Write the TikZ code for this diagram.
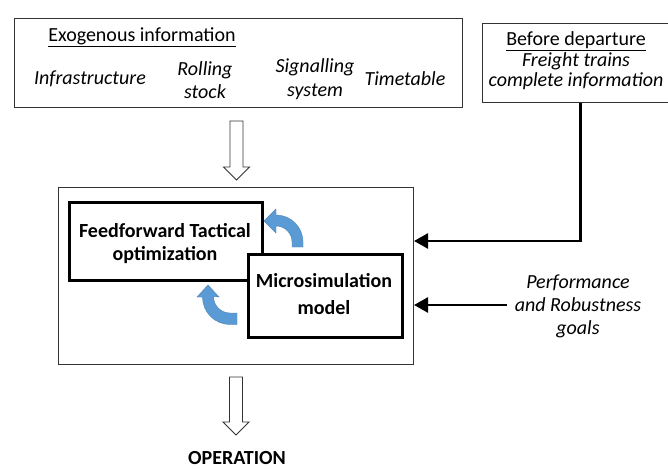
\documentclass[tikz,border=0pt]{standalone}
\usepackage{fontspec}
\setmainfont{Carlito}
\usetikzlibrary{arrows.meta,calc}
\definecolor{officeblue}{HTML}{5B9BD5}
\definecolor{thinline}{HTML}{333333}
\begin{document}
\begin{tikzpicture}[x=1pt,y=-1pt,
  thinbox/.style={draw=thinline,line width=1pt,fill=white,anchor=north west,inner sep=0pt},
  thickbox/.style={draw=black,line width=2.6pt,fill=white,anchor=north west,inner sep=0pt},
  lbl/.style={align=center,inner sep=0pt,font=\fontsize{20}{23}\selectfont},
  itlbl/.style={lbl,font=\fontsize{20}{23.5}\selectfont\itshape},
  bflbl/.style={align=center,inner sep=0pt,font=\fontsize{20}{24}\selectfont\bfseries},
  hollow/.style={draw=thinline,line width=0.9pt,fill=white},
  feed/.style={draw=black,line width=2.6pt,-{Triangle[length=14pt,width=15pt]}},
  bluearrow/.style={fill=officeblue,draw=officeblue!85!black,line width=0.4pt}
]
\useasboundingbox (0,0) rectangle (668,468);
% top-left box
\node[thinbox,minimum width=448pt,minimum height=89pt] (exo) at (14,18) {};
\node[lbl] (exot) at (142,37) {\underline{Exogenous information}};
\node[itlbl] (infra) at (90,78.5) {Infrastructure};
\node[itlbl] (roll) at (205,80) {Rolling\\stock};
\node[itlbl] (sig) at (315,79) {Signalling\\system};
\node[itlbl] (tt) at (405,78.5) {Timetable};
% top-right box
\node[thinbox,minimum width=196pt,minimum height=79pt] (rb) at (482,23) {};
\node[align=center,inner sep=0pt,font=\fontsize{20}{20.5}\selectfont] (rbt) at (576,61)
  {\underline{Before departure}\\ \itshape Freight trains\\ \itshape complete information};
% top hollow arrow
\draw[hollow] (230,121) -- (243,121) -- (243,167) -- (249.5,167) -- (236.5,180) -- (223.5,167) -- (230,167) -- cycle;
% main box
\node[thinbox,minimum width=355pt,minimum height=177pt] (main) at (58,187) {};
\node[thickbox,minimum width=193pt,minimum height=78pt] (ff) at (68,201) {};
\node[bflbl,font=\fontsize{20}{23}\selectfont\bfseries] (fft) at (165,243.5) {Feedforward Tactical\\optimization};
\node[thickbox,minimum width=154pt,minimum height=83pt] (ms) at (247,253) {};
\node[bflbl,font=\fontsize{20}{27}\selectfont\bfseries] (mst) at (324,294) {Microsimulation\\model};
% blue arrows
\fill[bluearrow] (292,247) -- (292,242) arc[start angle=0,end angle=90,radius=16pt]
  -- (276,233) -- (264,221) -- (276,209) -- (276,215)
  arc[start angle=90,end angle=0,radius=27pt] -- (303,247) -- cycle;
\fill[bluearrow] (237,313) -- (230,313) arc[start angle=270,end angle=180,radius=16.5pt]
  -- (219,297) -- (208,285) -- (197,297) -- (202.5,297)
  arc[start angle=180,end angle=270,radius=27.5pt] -- (237,324.5) -- cycle;
% right-side inputs
\draw[feed] (rb.south) |- (main.east |- 0,241);
\node[itlbl,font=\fontsize{20}{23}\selectfont\itshape] (perf) at (578,306) {Performance\\and Robustness\\goals};
\coordinate (perfs) at (507,305);
\draw[feed] (perfs) -- (main.east |- perfs);
% bottom hollow arrow
\draw[hollow] (229.5,377) -- (242.5,377) -- (242.5,422) -- (249,422) -- (236,435) -- (223,422) -- (229.5,422) -- cycle;
\node[bflbl] (op) at (237,458) {OPERATION};
\end{tikzpicture}
\end{document}
